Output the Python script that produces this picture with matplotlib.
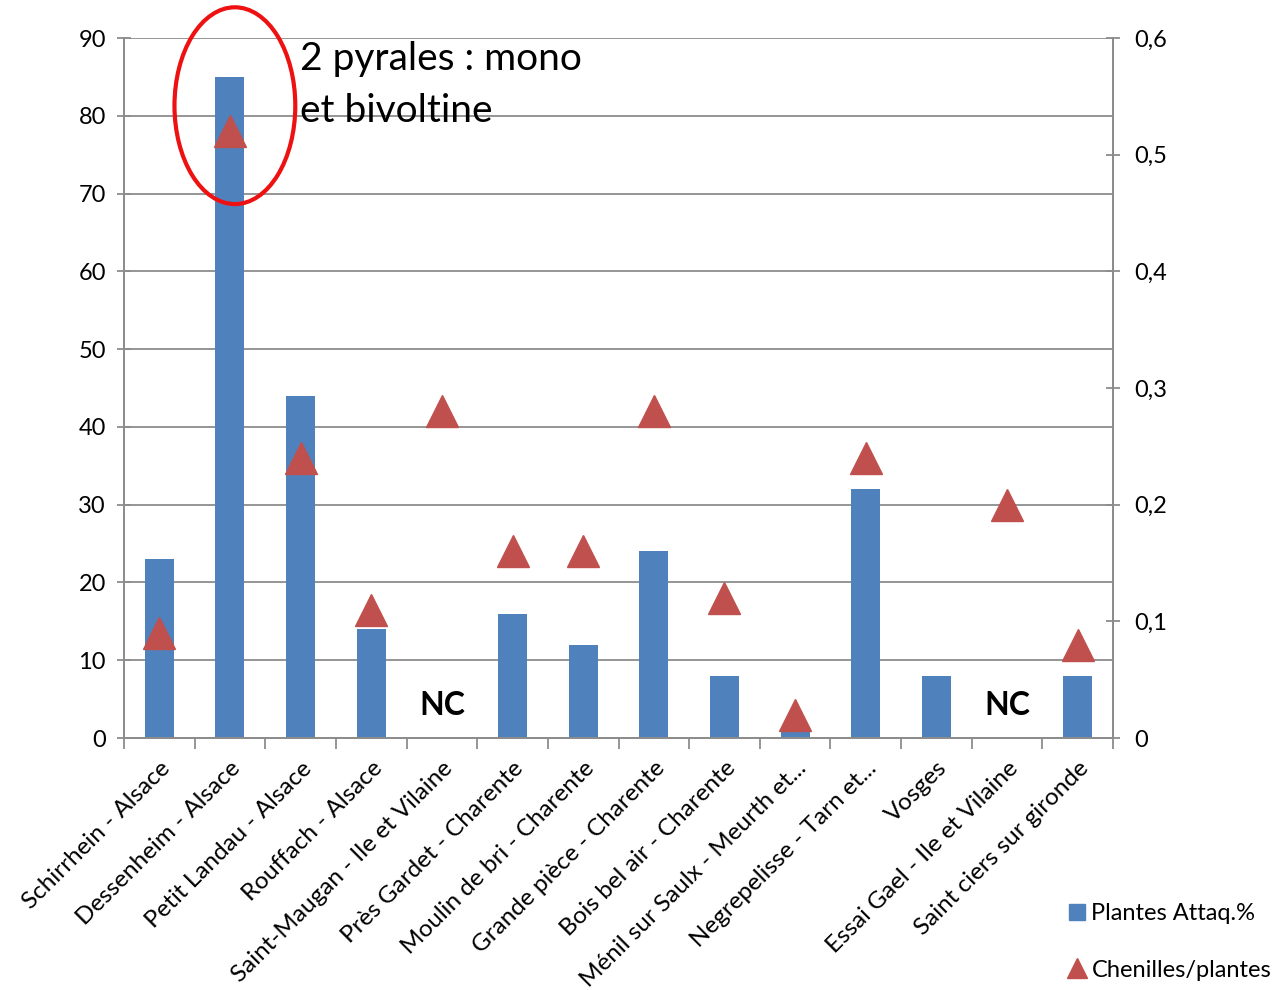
import matplotlib
matplotlib.use("Agg")
import matplotlib.pyplot as plt
import numpy as np
from matplotlib.patches import Ellipse
from matplotlib.lines import Line2D
from matplotlib.ticker import FuncFormatter

sites = ["Schirrhein - Alsace", "Dessenheim - Alsace", "Petit Landau - Alsace",
         "Rouffach - Alsace", "Saint-Maugan - Ile et Vilaine", "Près Gardet - Charente",
         "Moulin de bri - Charente", "Grande pièce - Charente", "Bois bel air - Charente",
         "Ménil sur Saulx - Meurth et...", "Negrepelisse - Tarn et...", "Vosges",
         "Essai Gael - Ile et Vilaine", "Saint ciers sur gironde"]
plantes_attaq = [23, 85, 44, 14, np.nan, 16, 12, 24, 8, 1, 32, 8, np.nan, 8]
chenilles = [0.09, 0.52, 0.24, 0.11, 0.28, 0.16, 0.16, 0.28, 0.12, 0.02, 0.24, np.nan, 0.20, 0.08]
nc_sites = [4, 12]

BLUE = "#4F81BD"
RED = "#C0504D"
GRID = "#8C8C8C"

plt.rcParams['font.family'] = ['Lato', 'DejaVu Sans']

fig = plt.figure(figsize=(12.86, 9.9), dpi=100)
ax = fig.add_axes([0.0964, 0.2545, 0.7691, 0.7071])
ax2 = ax.twinx()

x = np.arange(len(sites))
ax.bar(x, np.nan_to_num(plantes_attaq), width=0.41, color=BLUE, zorder=2)
ax2.plot(x, chenilles, linestyle="none", marker="^", markersize=23,
         color=RED, markeredgecolor=RED, zorder=3, clip_on=False)

ax.set_xlim(-0.5, len(sites) - 0.5)
ax.set_ylim(0, 90)
ax.set_yticks(np.arange(0, 91, 10))
ax.yaxis.grid(True, color=GRID, linewidth=1.3)
ax.set_axisbelow(True)
ax2.set_ylim(0, 0.6)
ax2.set_yticks(np.arange(0, 0.61, 0.1))
ax2.yaxis.set_major_formatter(FuncFormatter(lambda v, p: "0" if abs(v) < 1e-9 else f"{v:.1f}".replace(".", ",")))

ax.set_xticks(x)
ax.set_xticklabels(sites, rotation=45, ha="right", rotation_mode="anchor", fontsize=17.5)
ax.tick_params(axis="x", length=0, pad=14)
ax.set_xticks(np.arange(-0.5, len(sites)), minor=True)
ax.tick_params(axis="x", which="minor", length=8, color=GRID, width=1.3)
ax.tick_params(axis="y", direction="inout", length=10, color=GRID, width=1.3, labelsize=17, pad=8)
ax2.tick_params(axis="y", direction="inout", length=10, color=GRID, width=1.3, labelsize=17, pad=10)

for a in (ax, ax2):
    a.spines["top"].set_visible(False)
    for s in ("left", "right", "bottom"):
        a.spines[s].set_color(GRID)
        a.spines[s].set_linewidth(1.3)

for i in nc_sites:
    ax.text(i, 4.2, "NC", fontsize=23, fontweight="bold", ha="center", va="center")

ax.add_patch(Ellipse((1.07, 81.3), 1.71, 25.3, fill=False, edgecolor="#EE1111",
                     linewidth=3, clip_on=False, zorder=4))
ax.text(1.99, 89.6, "2 pyrales : mono\net bivoltine", fontsize=28, ha="left", va="top",
        linespacing=1.55, zorder=5)

handles = [Line2D([], [], linestyle="none", marker="s", markersize=11, color=BLUE),
           Line2D([], [], linestyle="none", marker="^", markersize=14, color=RED)]
fig.legend(handles, ["Plantes Attaq.%", "Chenilles/plantes"], loc="lower right",
           bbox_to_anchor=(1.005, -0.012), frameon=False, fontsize=17, labelspacing=1.5,
           handletextpad=0.1, handlelength=1.0)

fig.savefig("out.png", dpi=100)
